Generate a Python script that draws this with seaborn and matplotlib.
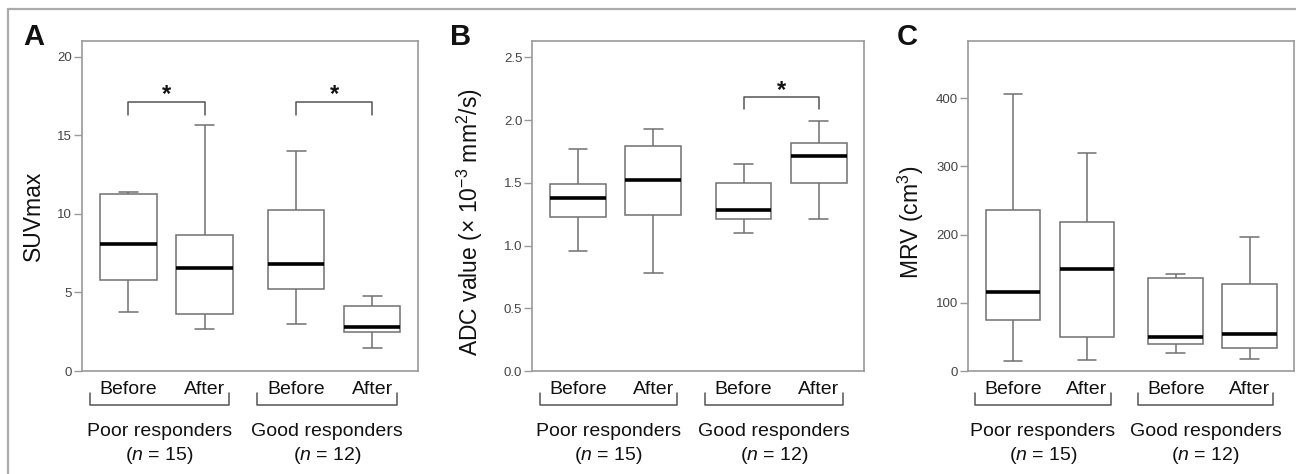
import matplotlib
matplotlib.use("Agg")
import matplotlib.pyplot as plt
import matplotlib.transforms as mtransforms
from matplotlib.lines import Line2D
import pandas as pd
import seaborn as sns

# box order: poor before, poor after, good before, good after
POSITIONS = [0.0, 1.0, 2.2, 3.2]
TIME_LABELS = ["Before", "After", "Before", "After"]
GROUP_LABELS = ["Poor responders", "Good responders"]
GROUP_N = [15, 12]

# five-number summaries: min, Q1, median, Q3, max
suv_stats = [
    [3.74, 5.80, 8.10, 11.25, 11.38],
    [2.65, 3.63, 6.54, 8.68, 15.65],
    [2.99, 5.20, 6.83, 10.25, 13.97],
    [1.48, 2.50, 2.80, 4.12, 4.76],
]
adc_stats = [
    [0.96, 1.23, 1.38, 1.49, 1.77],
    [0.78, 1.24, 1.52, 1.79, 1.93],
    [1.10, 1.21, 1.28, 1.50, 1.65],
    [1.21, 1.50, 1.71, 1.82, 1.99],
]
mrv_stats = [
    [14.7, 74.8, 116.3, 235.7, 406.8],
    [15.7, 49.4, 149.2, 219.0, 319.8],
    [26.4, 39.6, 49.4, 136.4, 142.3],
    [17.1, 34.2, 53.8, 128.0, 196.6],
]

# significance brackets: (left box, right box, bar height, leg bottom)
suv_sig = [(0, 1, 17.1, 16.3), (2, 3, 17.1, 16.3)]
adc_sig = [(2, 3, 2.18, 2.09)]
mrv_sig = []

FRAME = "#9a9a9a"
BOXLINE = "#707070"

sns.set_theme(style="white")
plt.rcParams["font.family"] = ["Liberation Sans", "DejaVu Sans"]
plt.rcParams["mathtext.fontset"] = "custom"
plt.rcParams["mathtext.rm"] = "Liberation Sans"
plt.rcParams["mathtext.it"] = "Liberation Sans:italic"
plt.rcParams["mathtext.bf"] = "Liberation Sans:bold"


def to_frame(stats):
    rows = []
    for pos, five in zip(POSITIONS, stats):
        for v in five:
            rows.append({"pos": pos, "value": v})
    return pd.DataFrame(rows)


def draw_panel(ax, stats, sig, ylim, yticks, ylabel, label_x, label_y):
    df = to_frame(stats)
    sns.boxplot(
        data=df, x="pos", y="value", native_scale=True, width=0.74,
        whis=(0, 100), showfliers=False, color="white", saturation=1,
        linecolor=BOXLINE, linewidth=1.1,
        medianprops=dict(color="black", linewidth=2.6),
        capwidths=0.25,
        ax=ax,
    )
    ax.set_xlim(-0.61, 3.8)
    ax.set_ylim(*ylim)
    ax.set_yticks(yticks)
    ax.set_xticks(POSITIONS, TIME_LABELS)
    ax.tick_params(axis="x", length=0, pad=7, labelsize=14, labelcolor="#111")
    ax.tick_params(axis="y", length=6, width=1, color=FRAME, pad=1,
                   labelsize=9.5, labelcolor="#444", left=True)
    for sp in ax.spines.values():
        sp.set_color(FRAME)
        sp.set_linewidth(1.2)
    ax.set_xlabel("")
    ax.set_ylabel(ylabel, fontsize=16.5, color="#111")
    ax.yaxis.set_label_coords(label_x, label_y)

    # significance brackets
    for i, j, top, leg in sig:
        x0, x1 = POSITIONS[i], POSITIONS[j]
        ax.plot([x0, x0, x1, x1], [leg, top, top, leg], color="#555", lw=1.1)
        ax.annotate("*", xy=((x0 + x1) / 2, top), xytext=(0, -3),
                    textcoords="offset points", ha="center", va="bottom",
                    fontsize=17, fontweight="bold", color="#111")

    # group brackets under tick labels
    trans = mtransforms.blended_transform_factory(ax.transData, ax.transAxes)
    for g in range(2):
        a, b = POSITIONS[2 * g] - 0.51, POSITIONS[2 * g + 1] + 0.32
        ax.plot([a, a, b, b], [-0.067, -0.103, -0.103, -0.067], color="#555",
                lw=1.1, transform=trans, clip_on=False)
        mid = (a + b) / 2
        ax.text(mid, -0.182, GROUP_LABELS[g], transform=trans, ha="center",
                va="center", fontsize=14, color="#111")
        ax.text(mid, -0.255, r"($\it{n}$ = %d)" % GROUP_N[g], transform=trans,
                ha="center", va="center", fontsize=14, color="#111")


fig = plt.figure(figsize=(12.96, 4.74), dpi=100)
W, H = 1296, 474
bottom = 1 - 371 / H
height = 330 / H
ax_a = fig.add_axes([82 / W, bottom, 336 / W, height])
ax_b = fig.add_axes([532 / W, bottom, 332 / W, height])
ax_c = fig.add_axes([968 / W, bottom, 326 / W, height])

draw_panel(ax_a, suv_stats, suv_sig, (0, 21), [0, 5, 10, 15, 20],
           "SUVmax", -0.11, 0.47)
draw_panel(ax_b, adc_stats, adc_sig, (0, 2.63), [0.0, 0.5, 1.0, 1.5, 2.0, 2.5],
           r"ADC value (× 10$^{-3}$ mm$^{2}$/s)", -0.142, 0.45)
ax_b.set_yticklabels(["0.0", "0.5", "1.0", "1.5", "2.0", "2.5"])
draw_panel(ax_c, mrv_stats, mrv_sig, (0, 484), [0, 100, 200, 300, 400],
           r"MRV (cm$^{3}$)", -0.128, 0.45)

# panel letters
for x, letter in [(23, "A"), (450, "B"), (897, "C")]:
    fig.text(x / W, 1 - 45 / H, letter, fontsize=21, fontweight="bold",
             ha="left", va="baseline", color="#111")

# outer frame of the figure
fig.add_artist(Line2D([8 / W, 1], [1 - 9 / H, 1 - 9 / H], transform=fig.transFigure,
                      color="#aaaaaa", lw=1.6))
fig.add_artist(Line2D([8 / W, 8 / W], [0, 1 - 9 / H], transform=fig.transFigure,
                      color="#aaaaaa", lw=1.6))

fig.savefig("out.png", dpi=100, facecolor="white")
